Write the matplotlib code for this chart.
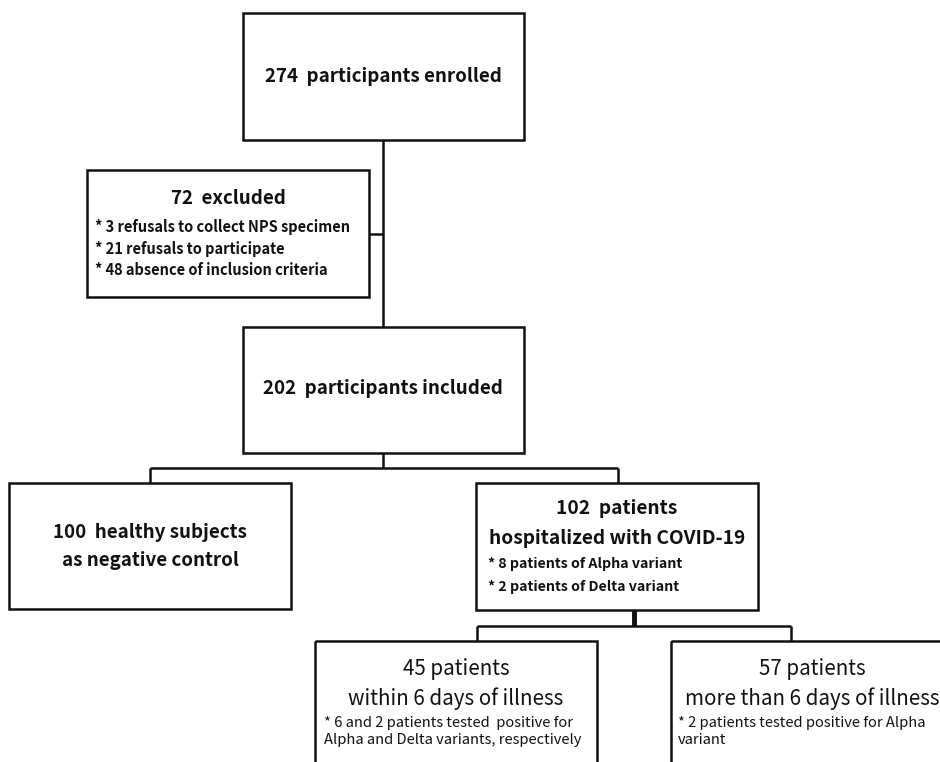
import matplotlib.pyplot as plt
from matplotlib.patches import Rectangle

plt.rcParams['font.family'] = ['Noto Sans CJK KR', 'DejaVu Sans']

# box texts
enrolled = "274  participants enrolled"
excl_title = "72  excluded"
excl_items = ["* 3 refusals to collect NPS specimen",
              "* 21 refusals to participate",
              "* 48 absence of inclusion criteria"]
included = "202  participants included"
healthy = ["100  healthy subjects", "as negative control"]
covid_title = ["102  patients", "hospitalized with COVID-19"]
covid_items = ["* 8 patients of Alpha variant",
               "* 2 patients of Delta variant"]
early_title = ["45 patients", "within 6 days of illness"]
early_items = ["* 6 and 2 patients tested  positive for",
               "Alpha and Delta variants, respectively"]
late_title = ["57 patients", "more than 6 days of illness"]
late_items = ["* 2 patients tested positive for Alpha",
              "variant"]

fig = plt.figure(figsize=(9.4, 7.62), dpi=100)
ax = fig.add_axes([0, 0, 1, 1])
ax.set_xlim(0, 940)
ax.set_ylim(762, 0)
ax.axis('off')

lw = 1.8
def box(x0, y0, x1, y1):
    ax.add_patch(Rectangle((x0, y0), x1 - x0, y1 - y0, fill=False, ec='#111111', lw=lw, clip_on=False))

def line(xs, ys, w=lw):
    ax.plot(xs, ys, color='#111111', lw=w, solid_capstyle='butt', solid_joinstyle='miter', clip_on=False)

# boxes
box(243, 13, 524, 140)
box(87, 170, 369, 297)
box(243, 327, 524, 453)
box(9, 483, 291, 609)
box(476, 483, 758, 610)
box(315, 641, 597, 790)
box(671, 641, 953, 790)

# connectors
line([383, 383], [140, 327])
line([369, 383], [234, 234])
line([383, 383], [453, 468])
line([150, 618], [468, 468])
line([150, 150], [468, 483])
line([618, 618], [468, 483])
line([634, 634], [610, 626], w=3.5)
line([477, 791], [626, 626])
line([477, 477], [626, 641])
line([791, 791], [626, 641])

tc = '#111111'
ax.text(383, 77, enrolled, ha='center', va='center', fontsize=13.5, fontweight='bold', color=tc)
ax.text(228, 199, excl_title, ha='center', va='center', fontsize=13.5, fontweight='bold', color=tc)
for y, s in zip([227, 249, 270], excl_items):
    ax.text(95, y, s, ha='left', va='center', fontsize=10.5, fontweight='bold', color=tc)
ax.text(383, 389, included, ha='center', va='center', fontsize=13.5, fontweight='bold', color=tc)
for y, s in zip([532, 561], healthy):
    ax.text(150, y, s, ha='center', va='center', fontsize=13.5, fontweight='bold', color=tc)
for y, s in zip([509, 538], covid_title):
    ax.text(617, y, s, ha='center', va='center', fontsize=13.8, fontweight='bold', color=tc)
for y, s in zip([564, 587], covid_items):
    ax.text(488, y, s, ha='left', va='center', fontsize=10.2, fontweight='bold', color=tc)
for y, s in zip([669, 699], early_title):
    ax.text(456, y, s, ha='center', va='center', fontsize=14.8, color=tc)
for y, s in zip([723, 740], early_items):
    ax.text(324, y, s, ha='left', va='center', fontsize=10.6, color=tc)
for y, s in zip([669, 699], late_title):
    ax.text(812, y, s, ha='center', va='center', fontsize=14.8, color=tc)
for y, s in zip([723, 740], late_items):
    ax.text(678, y, s, ha='left', va='center', fontsize=10.6, color=tc)

fig.savefig('out.png', dpi=100)
